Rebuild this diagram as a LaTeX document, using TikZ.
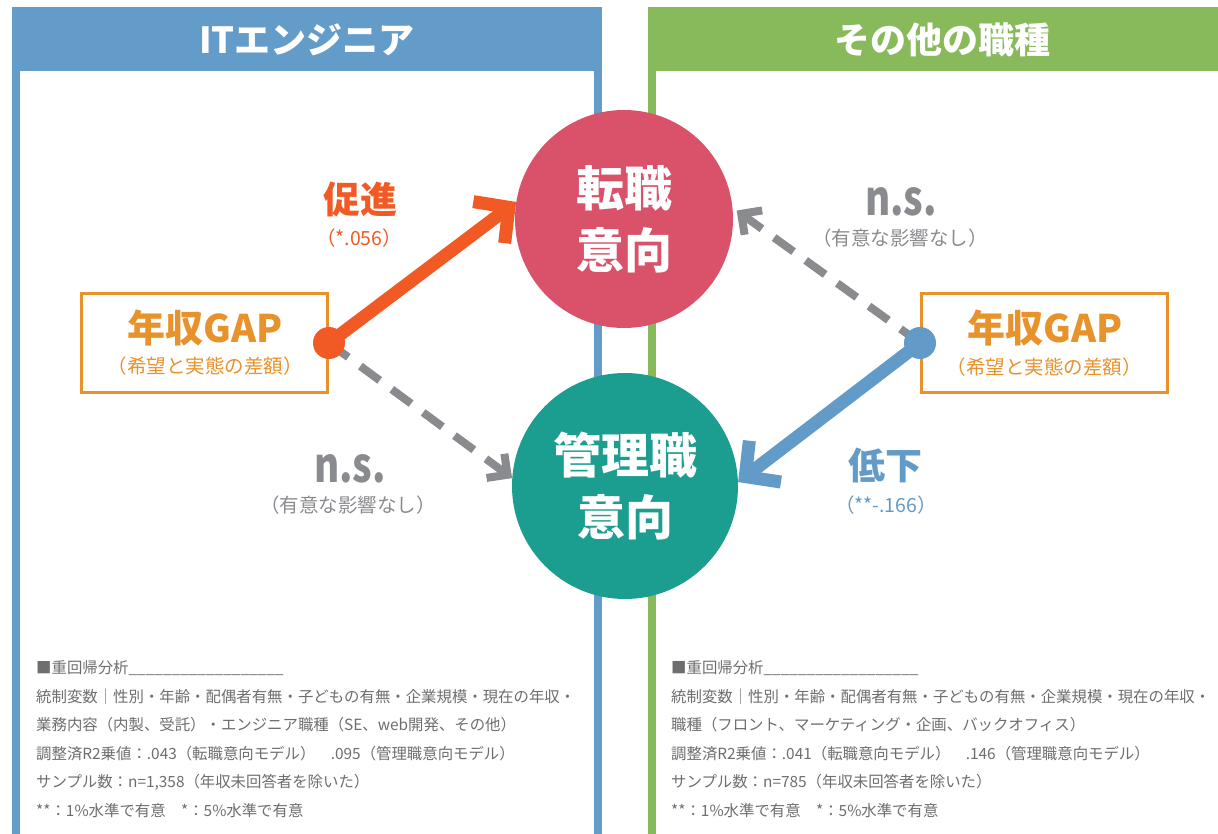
\documentclass[tikz,border=0pt]{standalone}
\usepackage{fontspec}
\setmainfont{Noto Sans CJK JP}
\newfontfamily\nsfont[FakeStretch=0.8]{Noto Sans CJK JP}
\usetikzlibrary{arrows.meta}
\definecolor{hdrblue}{HTML}{639BC9}
\definecolor{hdrgreen}{HTML}{88BA5C}
\definecolor{bubpink}{HTML}{DA516A}
\definecolor{bubteal}{HTML}{1B9E8F}
\definecolor{gapor}{HTML}{E8922B}
\definecolor{upor}{HTML}{F15A24}
\definecolor{nsgray}{HTML}{898B8E}
\definecolor{downblue}{HTML}{629AC8}
\definecolor{notegray}{HTML}{6E6E6E}
\newcommand\fsz[2]{\fontsize{#1}{#2}\selectfont}
\pgfdeclarelayer{back}
\pgfdeclarelayer{links}
\pgfsetlayers{back,links,main}
\begin{document}
\begin{tikzpicture}[x=1pt,y=-1pt,
  title/.style={text=white,font=\bfseries\fsz{36}{40},inner sep=0},
  bubble/.style={circle,inner sep=0pt,text=white,align=center,font=\bfseries\fsz{48}{62}},
  gapbox/.style={draw=gapor,line width=3pt,fill=white,minimum width=246pt,minimum height=99pt,inner sep=0},
  gaptitle/.style={text=gapor,font=\bfseries\fsz{38}{42},inner sep=0},
  gapsub/.style={text=gapor,font=\fsz{19.5}{22},inner sep=0},
  dotnode/.style={circle,inner sep=0,minimum size=32pt},
  efftitle/.style={font=\bfseries\fsz{37}{40},inner sep=0},
  effsub/.style={font=\fsz{19.5}{22},inner sep=0},
  nslabel/.style={text=nsgray,font=\nsfont\bfseries\fsz{48}{50},inner sep=0},
  note/.style={text=notegray,font=\fsz{15.4}{18},anchor=west,inner sep=0},
  solidlink/.style={line width=13pt,-{Straight Barb[length=25pt,width=52pt,sharp]}},
  dashlink/.style={draw=nsgray,line width=8pt,dash pattern=on 24pt off 15pt,-{Straight Barb[length=15pt,width=30pt,sharp]}},
]
\useasboundingbox (0,0) rectangle (1218,834);

\begin{pgfonlayer}{back}
  \fill[white] (0,0) rectangle (1218,834);
  % left panel
  \fill[hdrblue] (12,7) rectangle (602,71);
  \fill[hdrblue] (12,71) rectangle (20,834);
  \fill[hdrblue] (594,71) rectangle (602,834);
  % right panel
  \fill[hdrgreen] (648,7) rectangle (1218,71);
  \fill[hdrgreen] (648,71) rectangle (656,834);
  % outcome circles
  \node[bubble,fill=bubpink,minimum size=218pt] (tenshoku) at (624,219) {転職\\意向};
  \node[bubble,fill=bubteal,minimum size=226pt] (kanri) at (625,486) {管理職\\意向};
\end{pgfonlayer}

\node[title] (titleL) at (307,40) {ITエンジニア};
\node[title] (titleR) at (942,40) {その他の職種};

% predictor boxes
\node[gapbox] (boxL) at (204.5,343) {};
\node[gaptitle] (gapL) at (205,328) {年収GAP};
\node[gapsub] (gapsubL) at (205,366) {（希望と実態の差額）};
\node[gapbox] (boxR) at (1044.5,343) {};
\node[gaptitle] (gapR) at (1045,328) {年収GAP};
\node[gapsub] (gapsubR) at (1044,367) {（希望と実態の差額）};

% dots
\node[dotnode,fill=upor] (dotL) at (329,343) {};
\node[dotnode,fill=downblue] (dotR) at (920,343) {};

% links
\begin{pgfonlayer}{links}
  \draw[solidlink,draw=upor] (dotL.center) -- (tenshoku.171.6);
  \draw[dashlink] (dotL.center) -- (kanri.176.5);
  \draw[dashlink,shorten >=5pt] (dotR.center) -- (tenshoku.6);
  \draw[solidlink,draw=downblue] (dotR.center) -- (kanri.2);
\end{pgfonlayer}

% effect labels
\node[efftitle,text=upor] (upL) at (360,199) {促進};
\node[effsub,text=upor] (upLs) at (359,238) {（*.056）};
\node[nslabel] (nsL) at (350,469) {n.s.};
\node[effsub,text=nsgray] (nsLs) at (348,505) {（有意な影響なし）};
\node[nslabel] (nsR) at (901,202) {n.s.};
\node[effsub,text=nsgray] (nsRs) at (900,238) {（有意な影響なし）};
\node[efftitle,text=downblue] (downR) at (885,465) {低下};
\node[effsub,text=downblue] (downRs) at (886,505) {（**-.166）};

% notes left
\node[note] (nL1) at (36,668) {■重回帰分析\_\_\_\_\_\_\_\_\_\_\_\_\_\_\_\_\_\_};
\node[note] (nL2) at (36,696.5) {統制変数｜性別・年齢・配偶者有無・子どもの有無・企業規模・現在の年収・};
\node[note] (nL3) at (36,725) {業務内容（内製、受託）・エンジニア職種（SE、web開発、その他）};
\node[note] (nL4) at (36,753.5) {調整済R2乗値：.043（転職意向モデル）　.095（管理職意向モデル）};
\node[note] (nL5) at (36,782) {サンプル数：n=1,358（年収未回答者を除いた）};
\node[note] (nL6) at (36,810.5) {**：1\%水準で有意　*：5\%水準で有意};
% notes right
\node[note] (nR1) at (671,668) {■重回帰分析\_\_\_\_\_\_\_\_\_\_\_\_\_\_\_\_\_\_};
\node[note] (nR2) at (671,696.5) {統制変数｜性別・年齢・配偶者有無・子どもの有無・企業規模・現在の年収・};
\node[note] (nR3) at (671,725) {職種（フロント、マーケティング・企画、バックオフィス）};
\node[note] (nR4) at (671,753.5) {調整済R2乗値：.041（転職意向モデル）　.146（管理職意向モデル）};
\node[note] (nR5) at (671,782) {サンプル数：n=785（年収未回答者を除いた）};
\node[note] (nR6) at (671,810.5) {**：1\%水準で有意　*：5\%水準で有意};
\end{tikzpicture}
\end{document}
